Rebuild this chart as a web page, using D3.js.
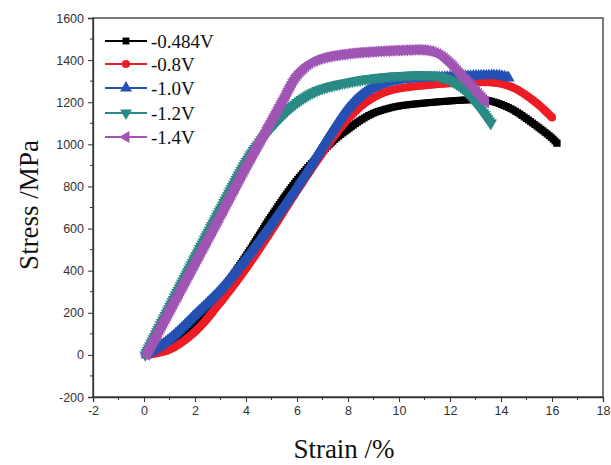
<!DOCTYPE html>
<html><head><meta charset="utf-8">
<script src="https://cdn.jsdelivr.net/npm/d3@7"></script>
<style>body{margin:0;background:#fff}svg{display:block}</style>
</head><body><svg id="chart" width="611" height="465"></svg>
<script>
// ---- data (strain %, stress MPa) ----
const seriesNames = ["-0.484V", "-0.8V", "-1.0V", "-1.2V", "-1.4V"];
const seriesColors = ["#000000", "#ee1c24", "#2450b4", "#2a8a84", "#a055b4"];
const xTicks = [-2, 0, 2, 4, 6, 8, 10, 12, 14, 16, 18];
const yTicks = [-200, 0, 200, 400, 600, 800, 1000, 1200, 1400, 1600];

const data_0484 = [[0.15,0],[1,50],[2,160],[3,300],[4,470],[5,660],[6,830],[7,965],[7.5,1025],[8,1072],[8.5,1115],[9,1148],[9.5,1168],[10,1182],[11,1196],[12,1206],[12.5,1210],[13,1212],[13.5,1208],[14,1190],[14.5,1162],[15,1122],[15.5,1078],[16,1030],[16.2,1005]];
const data_08 = [[0.1,0],[1,25],[2,110],[3,250],[4,410],[5,590],[6,780],[7,960],[7.5,1045],[8,1120],[8.5,1180],[9,1222],[9.5,1250],[10,1265],[11,1280],[12,1290],[13,1295],[13.5,1295],[14,1288],[14.5,1268],[15,1232],[15.5,1185],[16,1128]];
const data_10 = [[0.1,0],[1,75],[2,190],[3,310],[4,460],[5,625],[6,800],[7,990],[7.5,1085],[8,1170],[8.5,1230],[9,1270],[9.5,1292],[10,1305],[11,1315],[12,1320],[13,1325],[14,1325],[14.3,1315]];
const data_12 = [[0.05,0],[1,225],[2,460],[3,690],[4,915],[4.5,1005],[5,1080],[5.5,1145],[6,1198],[6.5,1238],[7,1265],[8,1295],[9,1315],[10,1326],[11,1330],[11.5,1325],[12,1305],[12.5,1265],[13,1200],[13.6,1100]];
const data_14 = [[0.1,0],[1,205],[2,432],[3,660],[4,890],[4.5,1000],[5,1110],[5.5,1220],[6,1328],[6.5,1385],[7,1410],[8,1430],[9,1440],[10,1446],[11,1447],[11.5,1430],[12,1385],[12.5,1320],[13,1255],[13.4,1200]];

const allSeries = [data_0484, data_08, data_10, data_12, data_14];
const symbolTypes = [d3.symbolSquare, d3.symbolCircle, d3.symbolTriangle, d3.symbolTriangle, d3.symbolTriangle];
const symbolRot = [0, 0, 0, 180, -90];
const symbolSizes = [48, 52, 62, 62, 62];

// ---- layout ----
const svg = d3.select("#chart");
const L = 93, R = 603, T = 18, B = 397;
const x = d3.scaleLinear().domain([-2, 18]).range([L, R]);
const y = d3.scaleLinear().domain([-200, 1600]).range([B, T]);

const axisColor = "#333";
svg.append("rect").attr("x", L).attr("y", T).attr("width", R - L).attr("height", B - T)
  .attr("fill", "none").attr("stroke", axisColor).attr("stroke-width", 1.3);

const fmt = d => String(d);
const xAxis = d3.axisBottom(x).tickValues(xTicks).tickFormat(fmt).tickSize(5).tickPadding(4);
const gx = svg.append("g").attr("transform", `translate(0,${B})`).call(xAxis);
const xMinor = d3.range(-1, 18, 2);
gx.selectAll(".minor").data(xMinor).enter().append("line").attr("class", "minor")
  .attr("x1", d => x(d)).attr("x2", d => x(d)).attr("y1", 0).attr("y2", 3).attr("stroke", axisColor);

const yAxis = d3.axisLeft(y).tickValues(yTicks).tickFormat(fmt).tickSize(5).tickPadding(4);
const gy = svg.append("g").attr("transform", `translate(${L},0)`).call(yAxis);
const yMinor = d3.range(-100, 1600, 200);
gy.selectAll(".minor").data(yMinor).enter().append("line").attr("class", "minor")
  .attr("y1", d => y(d)).attr("y2", d => y(d)).attr("x1", 0).attr("x2", -3).attr("stroke", axisColor);

[gx, gy].forEach(g => {
  g.select(".domain").attr("stroke", axisColor).attr("stroke-width", 1.3);
  g.selectAll(".tick line").attr("stroke", axisColor);
  g.selectAll("text").attr("font-family", "Liberation Sans, Arial, sans-serif").attr("font-size", 12.5).attr("fill", "#333");
});

// axis titles
svg.append("text").attr("x", 344).attr("y", 458).attr("text-anchor", "middle")
  .attr("font-family", "Liberation Serif, Times New Roman, serif").attr("font-size", 27).attr("fill", "#111")
  .text("Strain /%");
svg.append("text").attr("transform", "translate(38,205) rotate(-90)").attr("text-anchor", "middle")
  .attr("font-family", "Liberation Serif, Times New Roman, serif").attr("font-size", 27).attr("fill", "#111")
  .text("Stress /MPa");

// series
const line = d3.line().x(d => x(d[0])).y(d => y(d[1])).curve(d3.curveCatmullRom.alpha(0.5));
allSeries.forEach((ser, i) => {
  const g = svg.append("g");
  const p = g.append("path").datum(ser).attr("d", line).attr("fill", "none")
    .attr("stroke", seriesColors[i]).attr("stroke-width", 2);
  const node = p.node();
  const len = node.getTotalLength();
  const pts = [];
  for (let l = 0; l <= len; l += 2.6) pts.push(node.getPointAtLength(l));
  pts.push(node.getPointAtLength(len));
  const sym = d3.symbol().type(symbolTypes[i]).size(symbolSizes[i]);
  g.selectAll("path.m").data(pts).enter().append("path").attr("class", "m")
    .attr("d", sym)
    .attr("transform", d => `translate(${d.x},${d.y}) rotate(${symbolRot[i]})`)
    .attr("fill", seriesColors[i]);
});

// legend
const legY = [41, 64, 88, 113, 137];
seriesNames.forEach((n, i) => {
  const g = svg.append("g");
  g.append("line").attr("x1", 105).attr("x2", 147).attr("y1", legY[i]).attr("y2", legY[i])
    .attr("stroke", seriesColors[i]).attr("stroke-width", 2);
  g.append("path").attr("d", d3.symbol().type(symbolTypes[i]).size(symbolSizes[i])())
    .attr("transform", `translate(126,${legY[i]}) rotate(${symbolRot[i]})`).attr("fill", seriesColors[i]);
  g.append("text").attr("x", 151).attr("y", legY[i]).attr("dy", "0.35em")
    .attr("font-family", "Liberation Serif, Times New Roman, serif").attr("font-size", 19).attr("fill", "#111")
    .text(n);
});
</script></body></html>
